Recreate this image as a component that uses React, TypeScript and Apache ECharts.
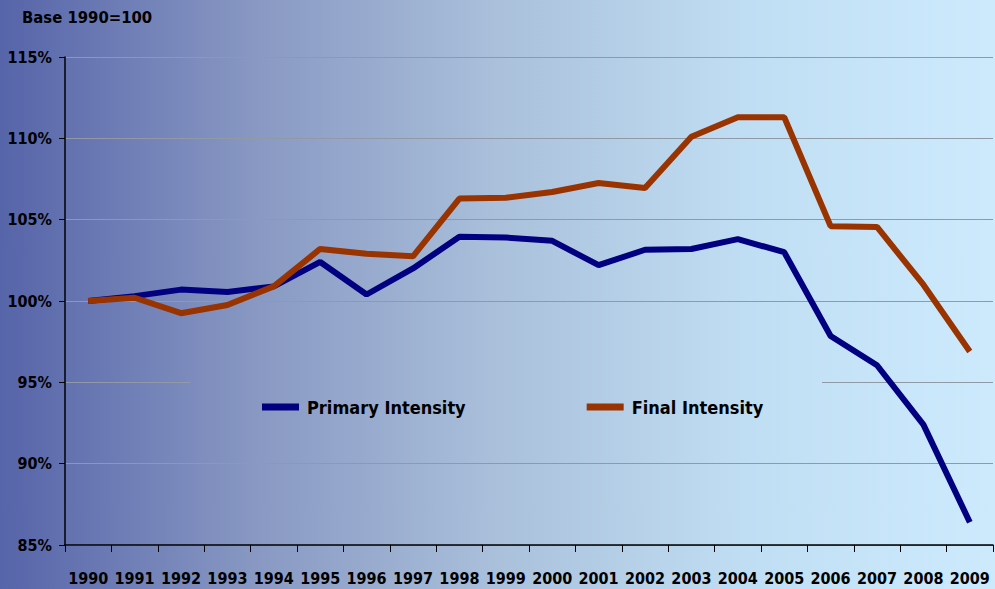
import React, { useEffect, useRef } from "react";
import * as echarts from "echarts";

const years = ["1990","1991","1992","1993","1994","1995","1996","1997","1998","1999","2000","2001","2002","2003","2004","2005","2006","2007","2008","2009"];
const primaryIntensity = [100.0, 100.3, 100.7, 100.55, 100.9, 102.4, 100.4, 102.0, 103.95, 103.9, 103.7, 102.2, 103.15, 103.2, 103.8, 103.0, 97.85, 96.05, 92.4, 86.4];
const finalIntensity = [100.0, 100.2, 99.25, 99.75, 100.9, 103.2, 102.9, 102.75, 106.3, 106.35, 106.7, 107.25, 106.95, 110.1, 111.3, 111.3, 104.6, 104.55, 101.0, 96.9];

const W = 995;
const H = 589;
const FONT = "DejaVu Sans Condensed";
const bgStops = [
  { offset: 0, color: "#5664a9" },
  { offset: 0.25, color: "#8797c2" },
  { offset: 0.5, color: "#aac0db" },
  { offset: 0.75, color: "#c0def3" },
  { offset: 1, color: "#cdeafd" },
];

export default function App() {
  const ref = useRef<HTMLDivElement>(null);
  useEffect(() => {
    document.body.style.margin = "0";
    const chart = echarts.init(ref.current!, null, { renderer: "svg" });
    chart.setOption({
      animation: false,
      backgroundColor: new echarts.graphic.LinearGradient(0, 0, 1, 0, bgStops),
      grid: { left: 65, right: 2, top: 57, bottom: 44, containLabel: false },
      legend: {
        left: 257,
        top: 393,
        z: 5,
        icon: "rect",
        itemWidth: 37,
        itemHeight: 7,
        itemGap: 121,
        textStyle: { fontFamily: FONT, fontWeight: "bold", fontSize: 18, color: "#000", padding: [0, 0, 0, 3] },
        data: ["Primary Intensity", "Final Intensity"],
      },
      graphic: [
        {
          type: "rect",
          z: 1,
          shape: { x: 190, y: 375, width: 632, height: 60 },
          style: { fill: new echarts.graphic.LinearGradient(0, 0, W, 0, bgStops, true) },
          silent: true,
        },
        {
          type: "text",
          left: 22,
          top: 9,
          style: { text: "Base 1990=100", fontFamily: FONT, fontWeight: "bold", fontSize: 16.5, fill: "#000" },
        },
      ],
      xAxis: {
        type: "category",
        data: years,
        boundaryGap: true,
        axisLine: { lineStyle: { color: "#000", width: 1.5 } },
        axisTick: { show: true, length: 7, lineStyle: { color: "#000" } },
        axisLabel: { margin: 25, fontFamily: FONT, fontWeight: "bold", fontSize: 16, color: "#000", interval: 0 },
      },
      yAxis: {
        type: "value",
        min: 85,
        max: 115,
        interval: 5,
        axisLine: { show: true, lineStyle: { color: "#000", width: 1.5 } },
        axisTick: { show: true, length: 6, lineStyle: { color: "#000" } },
        axisLabel: { margin: 13, formatter: "{value}%", fontFamily: FONT, fontWeight: "bold", fontSize: 16, color: "#000" },
        splitLine: { show: true, lineStyle: { color: "#8f9aa6", width: 1 } },
      },
      series: [
        {
          name: "Primary Intensity",
          type: "line",
          data: primaryIntensity,
          symbol: "none",
          z: 3,
          lineStyle: { color: "#000080", width: 6 },
          itemStyle: { color: "#000080" },
        },
        {
          name: "Final Intensity",
          type: "line",
          data: finalIntensity,
          symbol: "none",
          z: 3,
          lineStyle: { color: "#993300", width: 6 },
          itemStyle: { color: "#993300" },
        },
      ],
    });
    return () => chart.dispose();
  }, []);
  return <div ref={ref} style={{ width: W, height: H }} />;
}
